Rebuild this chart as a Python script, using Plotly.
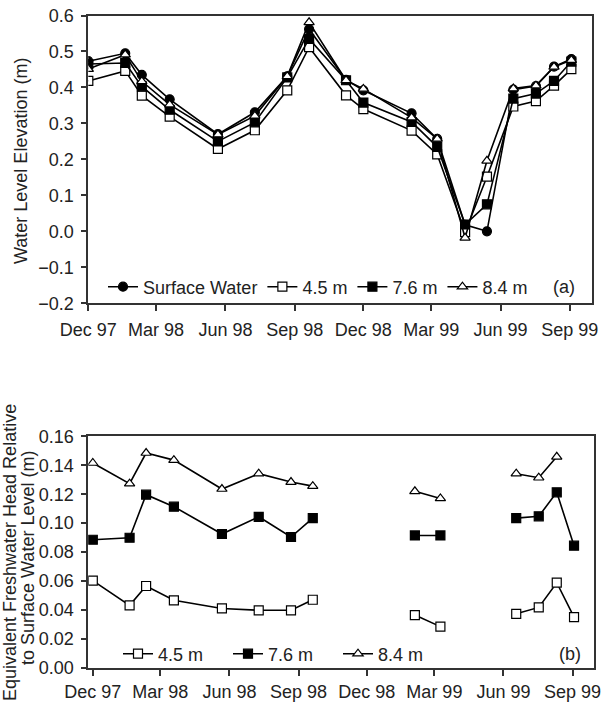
import plotly.graph_objects as go

# ---------------- data ----------------
dates = ["1997-12-01", "1998-01-19", "1998-02-10", "1998-03-19", "1998-05-22",
         "1998-07-10", "1998-08-22", "1998-09-20", "1998-11-08", "1998-12-01",
         "1999-02-03", "1999-03-09", "1999-04-15", "1999-05-14", "1999-06-18",
         "1999-07-18", "1999-08-11", "1999-09-03"]

surface_water = [0.473, 0.495, 0.435, 0.367, 0.270, 0.331, 0.431, 0.562, 0.421, 0.392,
                 0.328, 0.257, 0.018, 0.000, 0.394, 0.404, 0.458, 0.479]
level_45 = [0.418, 0.446, 0.377, 0.319, 0.229, 0.281, 0.392, 0.512, 0.378, 0.340,
            0.280, 0.214, -0.002, 0.152, 0.347, 0.362, 0.405, 0.451]
level_76 = [0.465, 0.468, 0.403, 0.338, 0.250, 0.303, 0.428, 0.535, 0.420, 0.358,
            0.304, 0.235, 0.019, 0.075, 0.369, 0.383, 0.418, 0.472]
level_84 = [0.451, 0.491, 0.417, 0.352, 0.269, 0.321, 0.431, 0.581, 0.420, 0.396,
            0.316, 0.257, -0.018, 0.196, 0.397, 0.405, 0.457, 0.476]

head_45 = [0.0602, 0.0431, 0.0565, 0.0466, 0.0410, 0.0397, 0.0397, 0.0470, None, None,
           0.0364, 0.0284, None, None, 0.0373, 0.0417, 0.0588, 0.0350]
head_76 = [0.0885, 0.0899, 0.1197, 0.1114, 0.0925, 0.1044, 0.0904, 0.1035, None, None,
           0.0915, 0.0915, None, None, 0.1035, 0.1047, 0.1213, 0.0844]
head_84 = [0.1416, 0.1273, 0.1485, 0.1436, 0.1236, 0.1342, 0.1284, 0.1256, None, None,
           0.1220, 0.1171, None, None, 0.1342, 0.1314, 0.1459, None]

tick_dates = ["1997-12-01", "1998-03-01", "1998-06-01", "1998-09-01",
              "1998-12-01", "1999-03-01", "1999-06-01", "1999-09-01"]
tick_labels = ["Dec 97", "Mar 98", "Jun 98", "Sep 98",
               "Dec 98", "Mar 99", "Jun 99", "Sep 99"]

# ---------------- figure ----------------
W, H = 610, 705
FONT = "Liberation Sans, Arial, sans-serif"
FS = 18
TXT = "#222222"
AX = "#333333"

fig = go.Figure()

def add(x, y, name, symbol, fill, xa, ya, legend):
    fig.add_trace(go.Scatter(
        x=x, y=y, name=name, mode="lines+markers",
        xaxis=xa, yaxis=ya, legend=legend,
        line=dict(color="black", width=1.6),
        marker=dict(symbol=symbol, size=9,
                    color=fill, line=dict(color="black", width=1.2)),
        connectgaps=False,
    ))

add(dates, surface_water, "Surface Water", "circle", "black", "x", "y", "legend")
add(dates, level_45, "4.5 m", "square", "white", "x", "y", "legend")
add(dates, level_76, "7.6 m", "square", "black", "x", "y", "legend")
add(dates, level_84, "8.4 m", "triangle-up", "white", "x", "y", "legend")

add(dates, head_45, "4.5 m", "square", "white", "x2", "y2", "legend2")
add(dates, head_76, "7.6 m", "square", "black", "x2", "y2", "legend2")
add(dates, head_84, "8.4 m", "triangle-up", "white", "x2", "y2", "legend2")

def px_x(p):
    return p / W

def px_y(p):
    return 1 - p / H

axis_common = dict(
    showline=True, linecolor=AX, linewidth=1.8, mirror=True,
    ticks="outside", tickcolor=AX, tickwidth=1.5,
    showgrid=False, zeroline=False, automargin=False,
    tickfont=dict(family=FONT, size=FS, color=TXT),
)

def ann(text, x, y, angle=0, size=FS):
    return dict(text=text, x=px_x(x), y=px_y(y), xref="paper", yref="paper",
                textangle=angle, showarrow=False, xanchor="center", yanchor="middle",
                font=dict(family=FONT, size=size, color=TXT))

fig.update_layout(
    width=W, height=H,
    margin=dict(l=0, r=0, t=0, b=0, autoexpand=False),
    paper_bgcolor="white", plot_bgcolor="white",
    font=dict(family=FONT, size=FS, color=TXT),
    showlegend=True,
    xaxis=dict(axis_common, type="date", domain=[px_x(88.3), px_x(591.7)],
               range=["1997-12-01", "1999-09-30"],
               tickvals=tick_dates, ticktext=tick_labels, ticklen=6,
               ticklabelstandoff=3, anchor="y"),
    yaxis=dict(axis_common, domain=[px_y(303.3), px_y(15.5)], range=[-0.2, 0.6],
               dtick=0.1, tick0=0, tickformat=".1f", ticklen=5,
               ticklabelstandoff=4, anchor="x"),
    xaxis2=dict(axis_common, type="date", domain=[px_x(88.3), px_x(594.3)],
                range=["1997-11-25", "1999-09-30"],
                tickvals=tick_dates, ticktext=tick_labels, ticklen=6,
                ticklabelstandoff=1, anchor="y2"),
    yaxis2=dict(axis_common, domain=[px_y(667.7), px_y(436.4)], range=[0, 0.16],
                dtick=0.02, tick0=0, tickformat=".2f", ticklen=5,
                ticklabelstandoff=4, anchor="x2"),
    legend=dict(orientation="h", x=px_x(103), y=px_y(287), xanchor="left", yanchor="middle",
                bgcolor="rgba(0,0,0,0)", borderwidth=0,
                font=dict(family=FONT, size=FS, color=TXT), itemclick=False),
    legend2=dict(orientation="h", x=px_x(118), y=px_y(654), xanchor="left", yanchor="middle",
                 bgcolor="rgba(0,0,0,0)", borderwidth=0, entrywidth=65, entrywidthmode="pixels",
                 font=dict(family=FONT, size=FS, color=TXT), itemclick=False),
    annotations=[
        ann("Water Level Elevation (m)", 21, 161, -90),
        ann("Equivalent Freshwater Head Relative", 10, 553, -90),
        ann("to Surface Water Level (m)", 28, 558, -90),
        ann("(a)", 564, 287),
        ann("(b)", 570, 654),
    ],
)

fig.write_html(
    "out.html",
    config={"displayModeBar": False},
    post_script="document.body.style.margin='0';document.body.style.overflow='hidden';",
)
